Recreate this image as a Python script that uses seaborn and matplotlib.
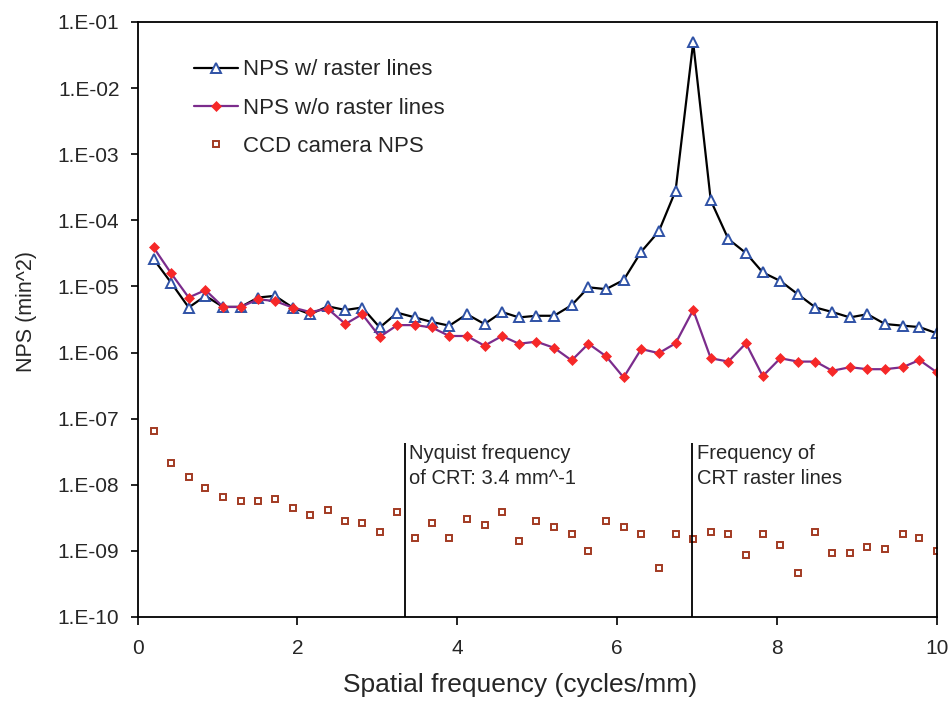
import numpy as np
import pandas as pd
import matplotlib
matplotlib.use("Agg")
import matplotlib.pyplot as plt
from matplotlib.ticker import FixedLocator, FuncFormatter, NullLocator
import seaborn as sns

# ---- data ----
freq = [0.20, 0.42, 0.64, 0.85, 1.07, 1.29, 1.51, 1.72, 1.94, 2.16,
        2.38, 2.60, 2.81, 3.03, 3.25, 3.47, 3.68, 3.90, 4.12, 4.34,
        4.56, 4.77, 4.99, 5.21, 5.43, 5.64, 5.86, 6.08, 6.30, 6.52,
        6.73, 6.95, 7.17, 7.39, 7.61, 7.82, 8.04, 8.26, 8.48, 8.69,
        8.91, 9.13, 9.35, 9.57, 9.78, 10.00]

nps_with_raster = [2.6e-5, 1.14e-5, 4.8e-6, 7.2e-6, 4.9e-6, 4.9e-6, 6.8e-6, 7.2e-6, 4.8e-6, 3.8e-6,
                   5.0e-6, 4.4e-6, 4.8e-6, 2.4e-6, 4.0e-6, 3.4e-6, 2.9e-6, 2.55e-6, 3.8e-6, 2.7e-6,
                   4.1e-6, 3.4e-6, 3.6e-6, 3.6e-6, 5.2e-6, 9.7e-6, 9.1e-6, 1.25e-5, 3.35e-5, 6.8e-5,
                   2.8e-4, 4.9e-2, 2.0e-4, 5.2e-5, 3.2e-5, 1.63e-5, 1.21e-5, 7.6e-6, 4.8e-6, 4.1e-6,
                   3.4e-6, 3.8e-6, 2.7e-6, 2.55e-6, 2.43e-6, 1.95e-6]

nps_without_raster = [3.9e-5, 1.58e-5, 6.8e-6, 8.8e-6, 4.9e-6, 4.9e-6, 6.4e-6, 6.0e-6, 4.8e-6, 4.1e-6,
                      4.6e-6, 2.7e-6, 3.8e-6, 1.73e-6, 2.6e-6, 2.6e-6, 2.4e-6, 1.78e-6, 1.78e-6, 1.27e-6,
                      1.78e-6, 1.36e-6, 1.46e-6, 1.18e-6, 7.6e-7, 1.36e-6, 8.8e-7, 4.2e-7, 1.13e-6, 9.8e-7,
                      1.38e-6, 4.4e-6, 8.2e-7, 7.3e-7, 1.38e-6, 4.4e-7, 8.2e-7, 7.3e-7, 7.3e-7, 5.3e-7,
                      6.0e-7, 5.6e-7, 5.6e-7, 6.0e-7, 7.7e-7, 5.0e-7]

ccd_nps = [6.6e-8, 2.1e-8, 1.32e-8, 8.9e-9, 6.5e-9, 5.7e-9, 5.7e-9, 6.1e-9, 4.45e-9, 3.45e-9,
           4.1e-9, 2.8e-9, 2.65e-9, 1.92e-9, 3.9e-9, 1.58e-9, 2.64e-9, 1.58e-9, 3.0e-9, 2.48e-9,
           3.9e-9, 1.39e-9, 2.82e-9, 2.32e-9, 1.8e-9, 1.0e-9, 2.82e-9, 2.32e-9, 1.8e-9, 5.6e-10,
           1.8e-9, 1.49e-9, 1.92e-9, 1.8e-9, 8.7e-10, 1.8e-9, 1.22e-9, 4.7e-10, 1.92e-9, 9.4e-10,
           9.4e-10, 1.15e-9, 1.08e-9, 1.8e-9, 1.58e-9, 1.0e-9]

series_labels = ["NPS w/ raster lines", "NPS w/o raster lines", "CCD camera NPS"]

nyquist_freq = 3.34
raster_freq = 6.94
annot_texts = ["Nyquist frequency\nof CRT: 3.4 mm^-1", "Frequency of\nCRT raster lines"]

y_ticks = [1e-1, 1e-2, 1e-3, 1e-4, 1e-5, 1e-6, 1e-7, 1e-8, 1e-9, 1e-10]
x_ticks = [0, 2, 4, 6, 8, 10]

# ---- figure ----
sns.set_style("ticks")
plt.rcParams["font.family"] = ["Liberation Sans", "DejaVu Sans"]

fig = plt.figure(figsize=(9.51, 7.07), dpi=100)
ax = fig.add_axes([0.1446, 0.1273, 0.8407, 0.8416])

df = pd.DataFrame({"freq": freq, "w": nps_with_raster, "wo": nps_without_raster, "ccd": ccd_nps})

sns.lineplot(data=df, x="freq", y="w", ax=ax, color="black", lw=1.6,
             marker="^", markersize=7, markerfacecolor="white",
             markeredgecolor="#2F52A6", markeredgewidth=1.4, label=series_labels[0])
sns.lineplot(data=df, x="freq", y="wo", ax=ax, color="#7B2C8C", lw=1.6,
             marker="D", markersize=5, markerfacecolor="#F62828",
             markeredgecolor="#F62828", markeredgewidth=0.5, label=series_labels[1])
ax.plot(df["freq"], df["ccd"], ls="none", marker="s", markersize=4.0,
        markerfacecolor="white", markeredgecolor="#A23A22", markeredgewidth=1.4,
        label=series_labels[2])

ax.set_yscale("log")
ax.set_xlim(0, 10)
ax.set_ylim(1e-10, 1e-1)

ax.vlines([nyquist_freq, raster_freq], 1e-10, 4.3e-8, color="black", lw=1.3)
ax.text(nyquist_freq + 0.06, 4.15e-8, annot_texts[0], fontsize=14.5, va="top", ha="left",
        linespacing=1.4)
ax.text(raster_freq + 0.06, 4.15e-8, annot_texts[1], fontsize=14.5, va="top", ha="left",
        linespacing=1.4)

ax.yaxis.set_major_locator(FixedLocator(y_ticks))
ax.yaxis.set_minor_locator(NullLocator())
ax.yaxis.set_major_formatter(FuncFormatter(lambda v, p: "1.E-%02d" % round(-np.log10(v))))
ax.set_xticks(x_ticks)
ax.tick_params(axis="y", labelsize=15, length=5, width=1.2, direction="out", color="black", pad=8)
ax.tick_params(axis="x", labelsize=15, length=5.5, width=1.2, direction="out", color="black", pad=10)

for s in ax.spines.values():
    s.set_visible(True)
    s.set_color("black")
    s.set_linewidth(1.3)

ax.set_xlabel("Spatial frequency (cycles/mm)", fontsize=19, labelpad=11, x=0.478, ha="center")
ax.set_ylabel("NPS (min^2)", fontsize=15.5, labelpad=15, y=0.514, ha="center")

leg = ax.legend(loc="upper left", bbox_to_anchor=(0.06, 0.952), frameon=False,
                fontsize=16, handlelength=1.95, handletextpad=0.25, labelspacing=0.78,
                borderaxespad=0)

fig.savefig("out.png", dpi=100, facecolor="white")
